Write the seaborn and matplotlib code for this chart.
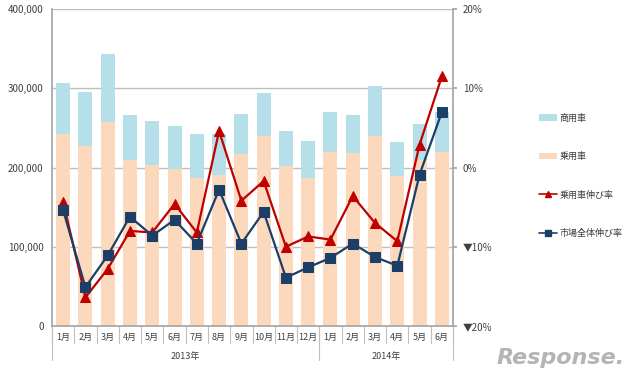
import numpy as np
import pandas as pd
import matplotlib
matplotlib.use("Agg")
import matplotlib.pyplot as plt
from matplotlib.lines import Line2D
from matplotlib.patches import Patch
import matplotlib.transforms as mtransforms
import seaborn as sns

# ---- data ----
months = ["1月", "2月", "3月", "4月", "5月", "6月", "7月", "8月", "9月", "10月", "11月", "12月",
          "1月", "2月", "3月", "4月", "5月", "6月"]
years = ["2013年", "2014年"]
year_counts = [12, 6]
total_units = [306600, 295700, 342800, 265800, 258700, 252800, 242300, 242300, 268000, 293600,
               246000, 233000, 270400, 265800, 302800, 231800, 254900, 270400]
passenger_units = [242300, 227500, 257800, 209000, 202700, 197700, 186300, 190500, 217000, 240200,
                   201900, 186300, 220000, 217900, 239700, 189300, 210000, 219000]
passenger_growth = [-4.3, -16.4, -12.8, -8.0, -8.2, -4.6, -8.2, 4.6, -4.2, -1.7,
                    -10.0, -8.7, -9.1, -3.6, -7.0, -9.3, 2.9, 11.5]
market_growth = [-5.4, -15.1, -11.1, -6.2, -8.6, -6.6, -9.6, -2.8, -9.6, -5.6,
                 -13.9, -12.6, -11.4, -9.6, -11.3, -12.4, -0.9, 7.0]
left_ticks = [0, 100000, 200000, 300000, 400000]
right_ticks = [-20, -10, 0, 10, 20]
right_tick_labels = ["▼20%", "▼10%", "0%", "10%", "20%"]
legend_labels = ["商用車", "乗用車", "乗用車伸び率", "市場全体伸び率"]

c_comm = "#B6E0E9"
c_pass = "#FCD8BC"
c_red = "#C00000"
c_blue = "#1B3F66"
c_grid = "#BFBFBF"
c_text = "#404040"

sns.set_theme(style="white")
plt.rcParams["font.family"] = ["Noto Sans CJK JP", "DejaVu Sans"]

df = pd.DataFrame({
    "idx": np.arange(len(months)),
    "total": total_units,
    "passenger": passenger_units,
    "pg": passenger_growth,
    "mg": market_growth,
})

fig = plt.figure(figsize=(6.4, 3.79), dpi=100)
ax = fig.add_axes([52/640, 1-326/379, (453-52)/640, (326-9)/379])

sns.barplot(data=df, x="idx", y="total", color=c_comm, width=0.63, ax=ax,
            saturation=1, edgecolor="none", linewidth=0, zorder=2)
sns.barplot(data=df, x="idx", y="passenger", color=c_pass, width=0.63, ax=ax,
            saturation=1, edgecolor="none", linewidth=0, zorder=2)

ax.set_ylim(0, 400000)
ax.set_xlim(-0.5, len(months) - 0.5)
ax.set_yticks(left_ticks)
ax.set_yticklabels([f"{v:,}" for v in left_ticks], fontsize=7, color=c_text)
for v in left_ticks[1:]:
    ax.axhline(v, color=c_grid, lw=1, zorder=1)
ax.set_xlabel("")
ax.set_ylabel("")
ax.set_xticks([])
for s in ["top", "right"]:
    ax.spines[s].set_visible(False)
ax.spines["left"].set_color("#A6A6A6")
ax.spines["bottom"].set_color("#A6A6A6")
ax.tick_params(axis="y", length=0, pad=6)

ax2 = ax.twinx()
sns.lineplot(data=df, x="idx", y="pg", ax=ax2, color=c_red, marker="^", markersize=6.5,
             markeredgecolor=c_red, lw=1.6, zorder=4)
sns.lineplot(data=df, x="idx", y="mg", ax=ax2, color=c_blue, marker="s", markersize=6.5,
             markeredgecolor=c_blue, lw=1.6, zorder=5)
ax2.set_ylim(-20, 20)
ax2.set_xlim(-0.5, len(months) - 0.5)
ax2.set_yticks(right_ticks)
ax2.set_yticklabels(right_tick_labels, fontsize=7, color=c_text)
ax2.set_xlabel("")
ax2.set_ylabel("")
ax2.set_xticks([])
for s in ["top", "left", "bottom"]:
    ax2.spines[s].set_visible(False)
ax2.spines["right"].set_color("#A6A6A6")
ax2.tick_params(axis="y", length=3, color="#A6A6A6", pad=4, right=True)

# category labels below axis
trans = mtransforms.blended_transform_factory(ax.transData, ax.transAxes)
h = 317.0
for i, m in enumerate(months):
    ax.text(i, -11/h, m, transform=trans, ha="center", va="center", fontsize=6.5, color=c_text)
for i in range(len(months) + 1):
    ax.plot([i - 0.5, i - 0.5], [0, -17/h], transform=trans, color="#BFBFBF", lw=0.8, clip_on=False)
start = 0
bounds = [0]
for y, n in zip(years, year_counts):
    ax.text(start + n/2 - 0.5, -30/h, y, transform=trans, ha="center", va="center",
            fontsize=6.5, color=c_text)
    start += n
    bounds.append(start)
for b in bounds:
    ax.plot([b - 0.5, b - 0.5], [0, -34/h], transform=trans, color="#BFBFBF", lw=0.8, clip_on=False)

# legend
handles = [
    Patch(facecolor=c_comm, edgecolor="none"),
    Patch(facecolor=c_pass, edgecolor="none"),
    Line2D([0], [0], color=c_red, marker="^", markersize=4, lw=1.2),
    Line2D([0], [0], color=c_blue, marker="s", markersize=4, lw=1.2),
]
fig.legend(handles, legend_labels, loc="upper left", bbox_to_anchor=(534/640, 1-109/379),
           frameon=False, fontsize=6.5, labelspacing=3.25, handlelength=2.0,
           handletextpad=0.3, labelcolor=c_text, borderpad=0)

# watermark
fig.text(625/640, 1-368/379, "Response.", ha="right", va="bottom", fontsize=16, color="#B4B4B4",
         fontstyle="italic", fontweight="bold", family="DejaVu Sans")

fig.savefig("out.png", dpi=100)
